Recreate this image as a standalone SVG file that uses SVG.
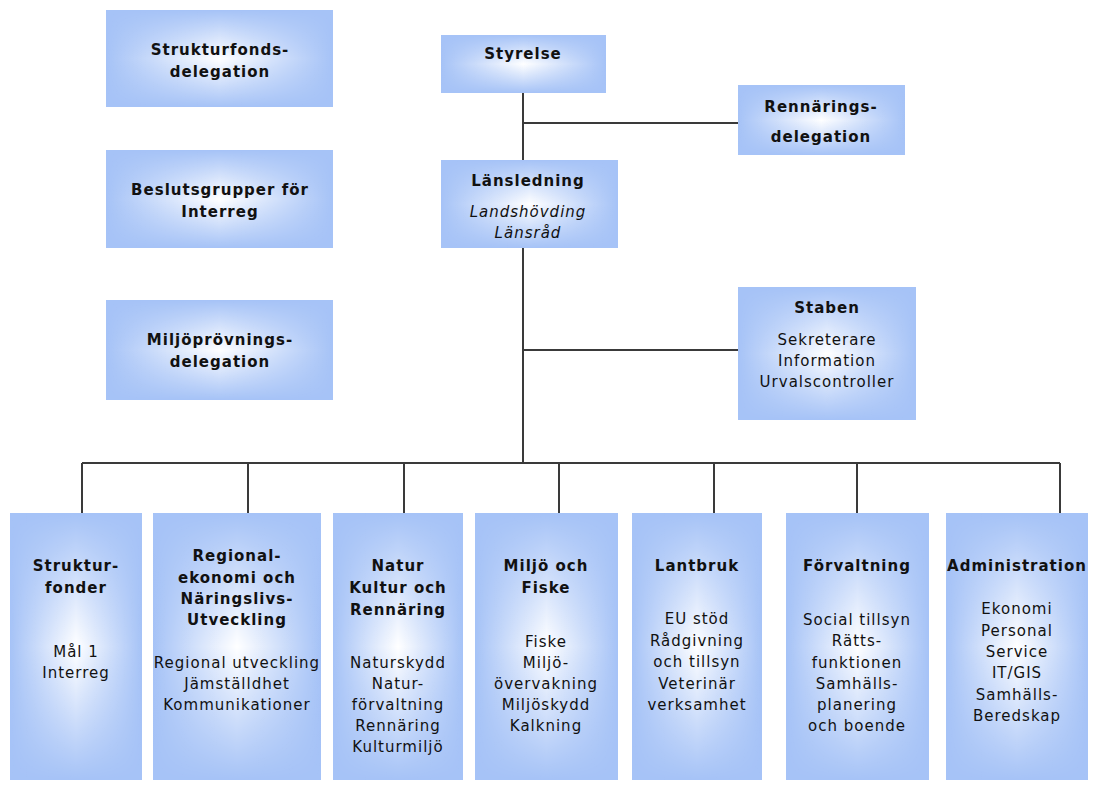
<svg xmlns="http://www.w3.org/2000/svg" width="1093" height="785" viewBox="0 0 1093 785">
<defs>
<linearGradient id="hg" x1="0" y1="0" x2="1" y2="0">
<stop offset="0" stop-color="#fff" stop-opacity="0"/>
<stop offset="0.5" stop-color="#fff" stop-opacity="1"/>
<stop offset="1" stop-color="#fff" stop-opacity="0"/>
</linearGradient>
<linearGradient id="vg" x1="0" y1="0" x2="0" y2="1">
<stop offset="0" stop-color="#000"/>
<stop offset="0.5" stop-color="#fff"/>
<stop offset="1" stop-color="#000"/>
</linearGradient>
<mask id="vm" maskContentUnits="objectBoundingBox">
<rect x="0" y="0" width="1" height="1" fill="url(#vg)"/>
</mask>
</defs>
<style>
.b{fill:#a6c3f7}
.g{fill:url(#hg);mask:url(#vm)}
text{font-family:"DejaVu Sans","Verdana",sans-serif;font-size:15px;letter-spacing:1px;fill:#111;text-anchor:middle}
.t{font-weight:bold}
.i{font-style:italic}
.c{stroke:#3a3a3a;stroke-width:2;fill:none}
</style>
<rect width="1093" height="785" fill="#fff"/>
<g id="connectors">
<path class="c" d="M523 93V160M523 123H738M523 248V463M523 350H738M82 463H1060M82 463V513M248 463V513M404 463V513M559 463V513M714 463V513M857 463V513M1060 463V513"/>
</g>
<g id="strukturfondsdelegation">
<rect class="b" x="106" y="10" width="227" height="97"/><rect class="g" x="106" y="10" width="227" height="97"/>
<text class="t" x="220" y="55">Strukturfonds-</text><text class="t" x="220" y="77">delegation</text>
</g>
<g id="beslutsgrupper">
<rect class="b" x="106" y="150" width="227" height="98"/><rect class="g" x="106" y="150" width="227" height="98"/>
<text class="t" x="220" y="195">Beslutsgrupper för</text><text class="t" x="220" y="217">Interreg</text>
</g>
<g id="miljoprovning">
<rect class="b" x="106" y="300" width="227" height="100"/><rect class="g" x="106" y="300" width="227" height="100"/>
<text class="t" x="220" y="345">Miljöprövnings-</text><text class="t" x="220" y="367">delegation</text>
</g>
<g id="styrelse">
<rect class="b" x="441" y="35" width="165" height="58"/><rect class="g" x="441" y="35" width="165" height="58"/>
<text class="t" x="523" y="59">Styrelse</text>
</g>
<g id="rennaringsdelegation">
<rect class="b" x="738" y="85" width="167" height="70"/><rect class="g" x="738" y="85" width="167" height="70"/>
<text class="t" x="821" y="112">Rennärings-</text><text class="t" x="821" y="142">delegation</text>
</g>
<g id="lansledning">
<rect class="b" x="441" y="160" width="177" height="88"/><rect class="g" x="441" y="160" width="177" height="88"/>
<text class="t" x="528" y="186">Länsledning</text>
<text class="i" x="528" y="217">Landshövding</text><text class="i" x="528" y="238">Länsråd</text>
</g>
<g id="staben">
<rect class="b" x="738" y="287" width="178" height="133"/><rect class="g" x="738" y="287" width="178" height="133"/>
<text class="t" x="827" y="313">Staben</text>
<text x="827" y="345">Sekreterare</text><text x="827" y="366">Information</text><text x="827" y="387">Urvalscontroller</text>
</g>
<g id="strukturfonder">
<rect class="b" x="10" y="513" width="132" height="267"/><rect class="g" x="10" y="513" width="132" height="267"/>
<text class="t" x="76" y="571">Struktur-</text><text class="t" x="76" y="593">fonder</text>
<text x="76" y="657">Mål 1</text><text x="76" y="678">Interreg</text>
</g>
<g id="regionalekonomi">
<rect class="b" x="153" y="513" width="168" height="267"/><rect class="g" x="153" y="513" width="168" height="267"/>
<text class="t" x="237" y="561">Regional-</text><text class="t" x="237" y="583">ekonomi och</text><text class="t" x="237" y="604">Näringslivs-</text><text class="t" x="237" y="625">Utveckling</text>
<text x="237" y="668">Regional utveckling</text><text x="237" y="689">Jämställdhet</text><text x="237" y="710">Kommunikationer</text>
</g>
<g id="natur">
<rect class="b" x="333" y="513" width="130" height="267"/><rect class="g" x="333" y="513" width="130" height="267"/>
<text class="t" x="398" y="571">Natur</text><text class="t" x="398" y="593">Kultur och</text><text class="t" x="398" y="615">Rennäring</text>
<text x="398" y="668">Naturskydd</text><text x="398" y="689">Natur-</text><text x="398" y="710">förvaltning</text><text x="398" y="731">Rennäring</text><text x="398" y="752">Kulturmiljö</text>
</g>
<g id="miljo">
<rect class="b" x="475" y="513" width="143" height="267"/><rect class="g" x="475" y="513" width="143" height="267"/>
<text class="t" x="546" y="571">Miljö och</text><text class="t" x="546" y="593">Fiske</text>
<text x="546" y="647">Fiske</text><text x="546" y="668">Miljö-</text><text x="546" y="689">övervakning</text><text x="546" y="710">Miljöskydd</text><text x="546" y="731">Kalkning</text>
</g>
<g id="lantbruk">
<rect class="b" x="632" y="513" width="130" height="267"/><rect class="g" x="632" y="513" width="130" height="267"/>
<text class="t" x="697" y="571">Lantbruk</text>
<text x="697" y="624">EU stöd</text><text x="697" y="646">Rådgivning</text><text x="697" y="667">och tillsyn</text><text x="697" y="689">Veterinär</text><text x="697" y="710">verksamhet</text>
</g>
<g id="forvaltning">
<rect class="b" x="786" y="513" width="143" height="267"/><rect class="g" x="786" y="513" width="143" height="267"/>
<text class="t" x="857" y="571">Förvaltning</text>
<text x="857" y="625">Social tillsyn</text><text x="857" y="646">Rätts-</text><text x="857" y="668">funktionen</text><text x="857" y="689">Samhälls-</text><text x="857" y="710">planering</text><text x="857" y="731">och boende</text>
</g>
<g id="administration">
<rect class="b" x="946" y="513" width="142" height="267"/><rect class="g" x="946" y="513" width="142" height="267"/>
<text class="t" x="1017" y="571">Administration</text>
<text x="1017" y="614">Ekonomi</text><text x="1017" y="636">Personal</text><text x="1017" y="657">Service</text><text x="1017" y="678">IT/GIS</text><text x="1017" y="700">Samhälls-</text><text x="1017" y="721">Beredskap</text>
</g>
</svg>
